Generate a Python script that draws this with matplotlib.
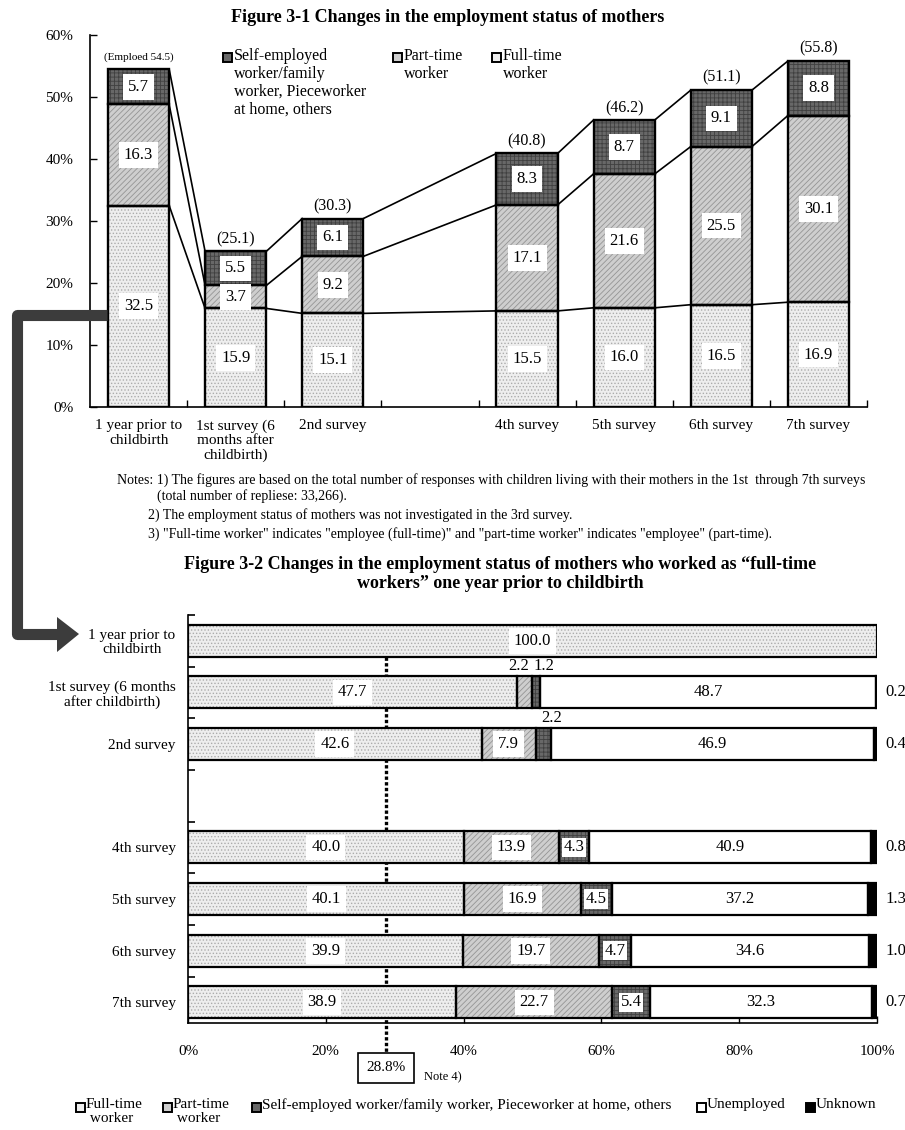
import matplotlib.pyplot as plt
import numpy as np
from matplotlib.patches import Rectangle, Polygon

plt.rcParams['font.family'] = ['Liberation Serif', 'DejaVu Serif']
plt.rcParams['hatch.linewidth'] = 0.6

# Figure 3-1: share of mothers by employment type (%)
top_labels = ['1 year prior to\nchildbirth', '1st survey (6\nmonths after\nchildbirth)', '2nd survey', '',
              '4th survey', '5th survey', '6th survey', '7th survey']
top_fulltime = [32.5, 15.9, 15.1, np.nan, 15.5, 16.0, 16.5, 16.9]
top_parttime = [16.3, 3.7, 9.2, np.nan, 17.1, 21.6, 25.5, 30.1]
top_selfemp = [5.7, 5.5, 6.1, np.nan, 8.3, 8.7, 9.1, 8.8]
top_totals = [54.5, 25.1, 30.3, np.nan, 40.8, 46.2, 51.1, 55.8]

# Figure 3-2: mothers who were full-time workers one year before childbirth (%)
bot_labels = ['1 year prior to\nchildbirth', '1st survey (6 months\nafter childbirth)', '2nd survey', '',
              '4th survey', '5th survey', '6th survey', '7th survey']
bot_fulltime = [100.0, 47.7, 42.6, np.nan, 40.0, 40.1, 39.9, 38.9]
bot_parttime = [0.0, 2.2, 7.9, np.nan, 13.9, 16.9, 19.7, 22.7]
bot_selfemp = [0.0, 1.2, 2.2, np.nan, 4.3, 4.5, 4.7, 5.4]
bot_unemployed = [0.0, 48.7, 46.9, np.nan, 40.9, 37.2, 34.6, 32.3]
bot_unknown = [0.0, 0.2, 0.4, np.nan, 0.8, 1.3, 1.0, 0.7]
fulltime_avg = 28.8

# fill colour, hatch, hatch colour
FT = ('#eeeeee', '.....', '#acacac')
PT = ('#cecece', '//////', '#949494')
SE = ('#686868', '++++', '#404040')
UE = ('white', '', 'white')
UK = ('black', '', 'black')

W, H = 905, 1130
fig = plt.figure(figsize=(W / 100, H / 100), dpi=100)


def px_axes(x0, y0, x1, y1):
    return fig.add_axes([x0 / W, 1 - y1 / H, (x1 - x0) / W, (y1 - y0) / H])


def value_box(ax, x, y, v, box=True, pad=3.5):
    bb = dict(facecolor='white', edgecolor='none', pad=pad) if box else None
    ax.text(x, y, f'{v:.1f}', ha='center', va='center', fontsize=12, bbox=bb, zorder=6)


# ---------------- Figure 3-1 ----------------
ax1 = px_axes(90, 35, 867, 407)
bw = 0.63
idx = [i for i, v in enumerate(top_totals) if not np.isnan(v)]
ft = np.array(top_fulltime)
pt = np.array(top_parttime)
se = np.array(top_selfemp)
levels = [ft, ft + pt, ft + pt + se]

for vals, base, st in [(ft, np.zeros(len(ft)), FT), (pt, ft, PT), (se, ft + pt, SE)]:
    ax1.bar(idx, vals[idx], bottom=base[idx], width=bw, color=st[0], hatch=st[1],
            edgecolor=st[2], linewidth=0, zorder=2)
    ax1.bar(idx, vals[idx], bottom=base[idx], width=bw, fill=False, edgecolor='black',
            linewidth=1.7, zorder=3)
    for i in idx:
        value_box(ax1, i, base[i] + vals[i] / 2, vals[i])

# lines joining the stacks of neighbouring bars
for a, b in zip(idx[:-1], idx[1:]):
    for lv in levels:
        ax1.plot([a + bw / 2, b - bw / 2], [lv[a], lv[b]], color='black', lw=1.2, zorder=1)

for i in idx:
    if i == 0:
        ax1.text(i, top_totals[i] + 2, f'(Emploed {top_totals[i]})', ha='center', va='center', fontsize=8)
    else:
        ax1.text(i, top_totals[i] + 2, f'({top_totals[i]})', ha='center', va='center', fontsize=11.5)

ax1.set_xlim(-0.5, 7.5)
ax1.set_ylim(0, 60)
ax1.set_yticks(range(0, 61, 10))
ax1.set_yticklabels([f'{v}%' for v in range(0, 61, 10)], fontsize=11)
ax1.set_xticks(np.arange(0.5, 8, 1))
ax1.set_xticklabels([])
ax1.set_xticks(range(8), minor=True)
ax1.set_xticklabels(top_labels, minor=True, fontsize=11, linespacing=1.1)
ax1.tick_params(axis='x', which='major', direction='in', length=5, width=1)
ax1.tick_params(axis='x', which='minor', length=0, pad=9)
ax1.tick_params(axis='y', direction='in', length=5, width=1, pad=12)
for s in ['top', 'right']:
    ax1.spines[s].set_visible(False)
for s in ['left', 'bottom']:
    ax1.spines[s].set_linewidth(1.2)

# ---------------- Figure 3-2 ----------------
ax2 = px_axes(188, 615, 877, 1023)
bh = 0.62
rows = [i for i, v in enumerate(bot_fulltime) if not np.isnan(v)]
series = [(bot_fulltime, FT), (bot_parttime, PT), (bot_selfemp, SE), (bot_unemployed, UE), (bot_unknown, UK)]
left = np.zeros(len(bot_fulltime))
for vals, st in series:
    vals = np.array(vals)
    for i in rows:
        if vals[i] <= 0:
            continue
        ax2.barh(i, vals[i], left=left[i], height=bh, color=st[0], hatch=st[1],
                 edgecolor=st[2], linewidth=0, zorder=2)
        ax2.barh(i, vals[i], left=left[i], height=bh, fill=False, edgecolor='black',
                 linewidth=1.6, zorder=3)
    left[rows] += vals[rows]

for i in rows:
    f, p, s, u, k = (bot_fulltime[i], bot_parttime[i], bot_selfemp[i],
                     bot_unemployed[i], bot_unknown[i])
    value_box(ax2, f / 2, i, f)
    if p > 0:
        if p < 3:
            ax2.text(f + p / 2 - 0.8, i - bh / 2 - 0.05, f'{p:.1f}', ha='center', va='bottom', fontsize=12)
        else:
            value_box(ax2, f + p / 2, i, p)
    if s > 0:
        if s < 3:
            ax2.text(f + p + s / 2 + 1.2, i - bh / 2 - 0.05, f'{s:.1f}', ha='center', va='bottom', fontsize=12)
        else:
            value_box(ax2, f + p + s / 2, i, s, pad=1.2)
    if u > 0:
        value_box(ax2, f + p + s + u / 2, i, u, box=False)
    if k > 0:
        ax2.text(101.2, i, f'{k:.1f}', ha='left', va='center', fontsize=12)

# average share of full-time workers
ax2.plot([fulltime_avg, fulltime_avg], [bh / 2, 7.97], color='black', lw=2.4,
         ls=(0, (1.0, 0.7)), zorder=1, clip_on=False)
ax2.text(fulltime_avg, 8.27, f'{fulltime_avg}%', ha='center', va='center', fontsize=11,
         bbox=dict(boxstyle='square,pad=0.55', facecolor='white', edgecolor='black', linewidth=1.2))
ax2.text(34.3, 8.46, 'Note 4)', ha='left', va='center', fontsize=9)

ax2.set_xlim(0, 100)
ax2.set_ylim(7.4, -0.5)
ax2.set_xticks(range(0, 101, 20))
ax2.set_xticklabels([f'{v}%' for v in range(0, 101, 20)], fontsize=11)
ax2.set_yticks(np.arange(-0.5, 7, 1))
ax2.set_yticklabels([])
ax2.set_yticks(range(8), minor=True)
ax2.set_yticklabels(bot_labels, minor=True, fontsize=11, linespacing=1.1, multialignment='center')
ax2.tick_params(axis='x', direction='in', length=5, width=1, pad=16)
ax2.tick_params(axis='y', which='major', direction='in', length=5, width=1.2)
ax2.tick_params(axis='y', which='minor', length=0, pad=9)
for s in ['top', 'right']:
    ax2.spines[s].set_visible(False)
for s in ['left', 'bottom']:
    ax2.spines[s].set_linewidth(1.2)

# ---------------- titles, notes, legends, arrow ----------------
ov = fig.add_axes([0, 0, 1, 1], facecolor='none')
ov.set_xlim(0, W)
ov.set_ylim(H, 0)
ov.axis('off')

ov.text(448, 17, 'Figure 3-1 Changes in the employment status of mothers', ha='center', va='center',
        fontsize=13, fontweight='bold')
ov.text(500, 574, 'Figure 3-2 Changes in the employment status of mothers who worked as \u201cfull-time\n'
        'workers\u201d one year prior to childbirth', ha='center', va='center', fontsize=13,
        fontweight='bold', linespacing=1.15)

notes = [
    (117, 480, 'Notes: 1) The figures are based on the total number of responses with children living with '
               'their mothers in the 1st  through 7th surveys'),
    (157, 496, '(total number of repliese: 33,266).'),
    (148, 515, '2) The employment status of mothers was not investigated in the 3rd survey.'),
    (148, 534, '3) "Full-time worker" indicates "employee (full-time)" and "part-time worker" indicates '
               '"employee" (part-time).'),
]
for x, y, t in notes:
    ov.text(x, y, t, ha='left', va='center', fontsize=10)

for x, y, face, text in [
    (223, 57, SE[0], 'Self-employed\nworker/family\nworker, Pieceworker\nat home, others'),
    (393, 57, PT[0], 'Part-time\nworker'),
    (492, 57, FT[0], 'Full-time\nworker'),
]:
    ov.add_patch(Rectangle((x, y - 4.5), 9, 9, facecolor=face, edgecolor='black', linewidth=1.4))
    ov.text(x + 11, y - 9, text, ha='left', va='top', fontsize=11.5, linespacing=1.15)

for x, y, face, text in [
    (76, 1107, FT[0], 'Full-time\n worker'),
    (163, 1107, PT[0], 'Part-time\n worker'),
    (252, 1107, SE[0], 'Self-employed worker/family worker, Pieceworker at home, others'),
    (697, 1107, UE[0], 'Unemployed'),
    (806, 1107, UK[0], 'Unknown'),
]:
    ov.add_patch(Rectangle((x, y - 4.5), 9, 9, facecolor=face, edgecolor='black', linewidth=1.4))
    ov.text(x + 10, y - 9, text, ha='left', va='top', fontsize=11, linespacing=1.1)

# arrow from the top chart's first bar down to the bottom chart's first bar
ov.plot([107, 17, 17, 60], [315, 315, 634, 634], color='#3c3c3c', lw=8,
        solid_joinstyle='round', solid_capstyle='butt')
ov.add_patch(Polygon([[57, 617], [79, 634], [57, 652]], closed=True, facecolor='#3c3c3c', edgecolor='none'))

fig.savefig('out.png', dpi=100, facecolor='white')
